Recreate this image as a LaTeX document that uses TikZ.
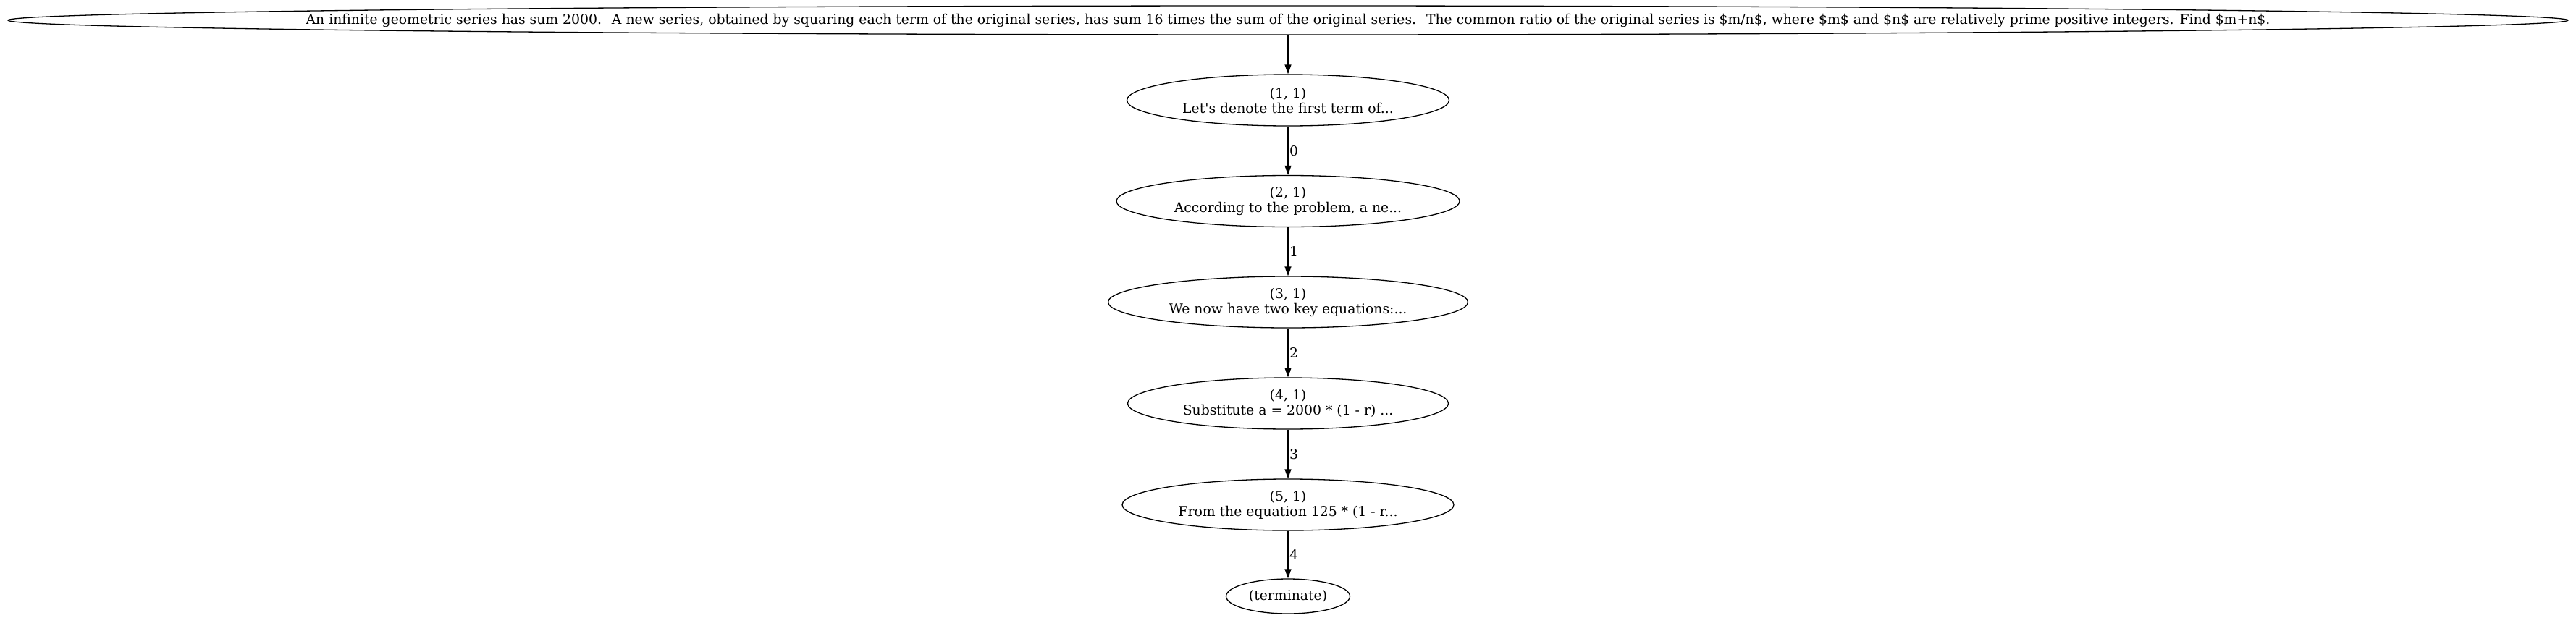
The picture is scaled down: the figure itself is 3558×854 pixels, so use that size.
\documentclass[tikz,border=0pt]{standalone}
\usepackage{fontspec}
\setmainfont{DejaVu Serif}
\usetikzlibrary{shapes.geometric,arrows.meta}
\begin{document}
\begin{tikzpicture}[x=1pt,y=-1pt,
  every node/.style={font=\fontsize{18.8}{21}\selectfont},
  st/.style={ellipse,draw,line width=1.3pt,inner sep=0pt,align=center},
  conn/.style={-{Triangle[length=13pt,width=9pt]},line width=1.3pt},
  lab/.style={anchor=west,inner sep=1pt,xshift=0.5pt}]
\useasboundingbox (0,0) rectangle (3558,854);
\node[st,minimum width=3536pt,minimum height=40pt] (q) at (1779,28) {\makebox[0pt]{An infinite geometric series has sum 2000.~ A new series, obtained by squaring each term of the original series, has sum 16 times the sum of the original series.~ The common ratio of the original series is \$m/n\$, where \$m\$ and \$n\$ are relatively prime positive integers. Find \$m+n\$.}};
\node[st,minimum width=445pt,minimum height=71pt] (n1) at (1779,138.5) {(1, 1)\\Let\textquotesingle s denote the first term of...};
\node[st,minimum width=474pt,minimum height=71pt] (n2) at (1779,278) {(2, 1)\\According to the problem, a ne...};
\node[st,minimum width=497pt,minimum height=71pt] (n3) at (1779,417.5) {(3, 1)\\We now have two key equations:...};
\node[st,minimum width=443pt,minimum height=71pt] (n4) at (1779,557.5) {(4, 1)\\Substitute a = 2000 * (1 - r) ...};
\node[st,minimum width=458pt,minimum height=71pt] (n5) at (1779,697.5) {(5, 1)\\From the equation 125 * (1 - r...};
\node[st,minimum width=171pt,minimum height=48pt] (t) at (1779,824) {(terminate)};
\draw[conn] (q) -- (n1);
\draw[conn] (n1) -- node[lab] (l0) {0} (n2);
\draw[conn] (n2) -- node[lab] (l1) {1} (n3);
\draw[conn] (n3) -- node[lab] (l2) {2} (n4);
\draw[conn] (n4) -- node[lab] (l3) {3} (n5);
\draw[conn] (n5) -- node[lab] (l4) {4} (t);
\end{tikzpicture}
\end{document}
